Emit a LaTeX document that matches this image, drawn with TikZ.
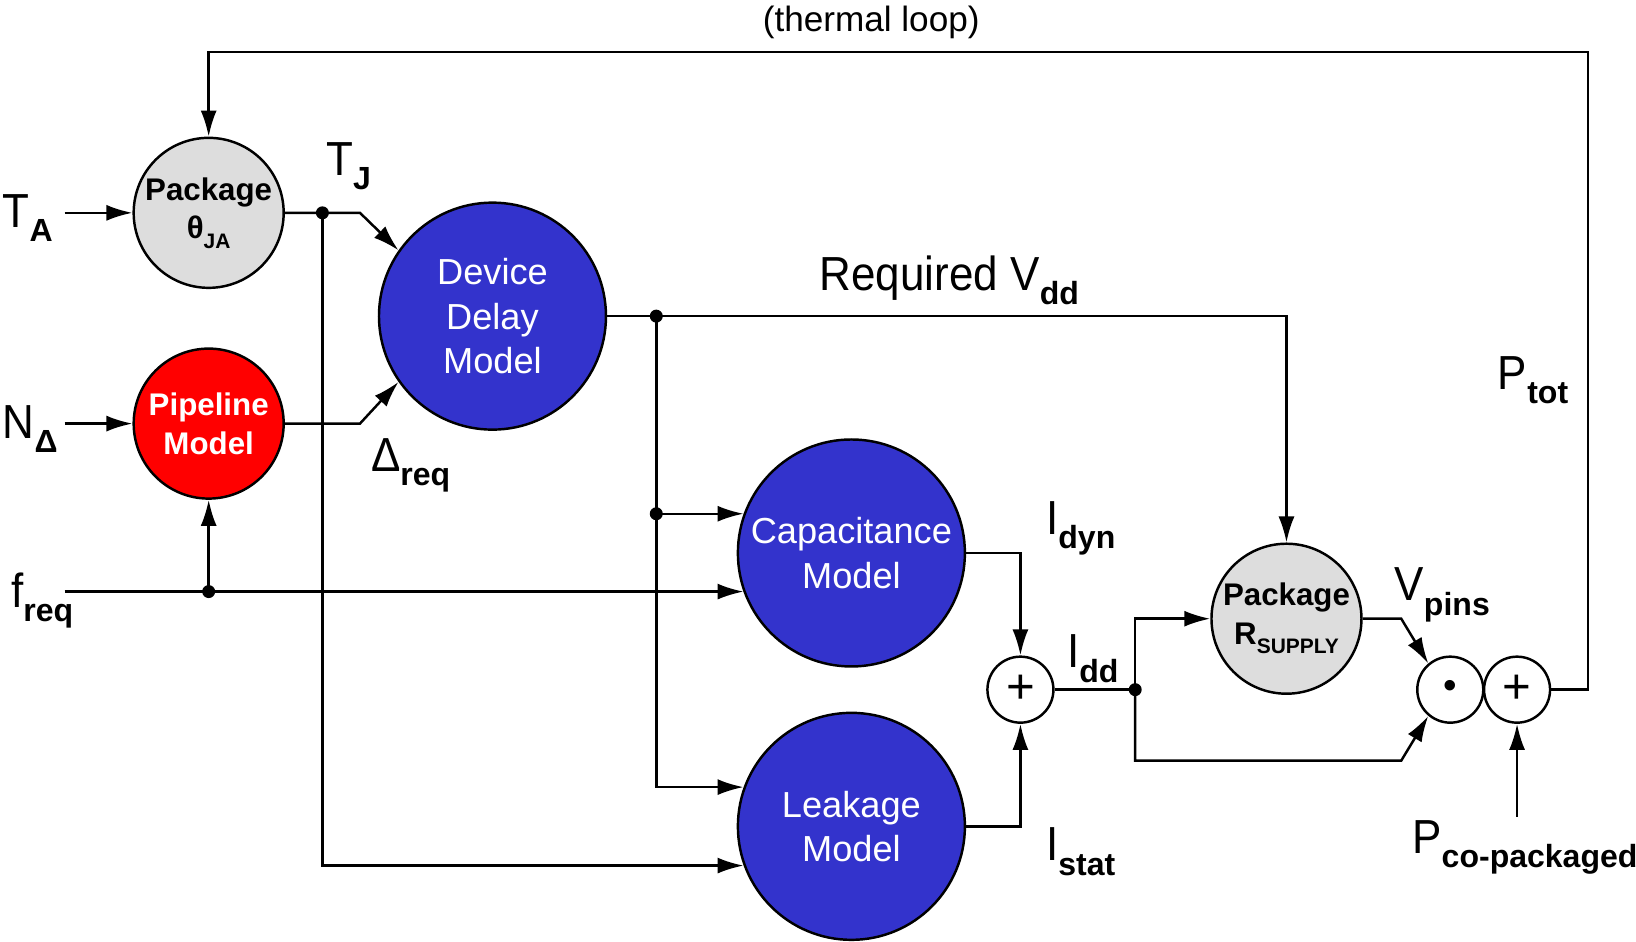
\documentclass[tikz,border=0pt]{standalone}
\usepackage{fontspec}
\setmainfont{Liberation Sans}
\newfontfamily\schmal{Liberation Sans}[FakeStretch=0.92]
\usetikzlibrary{arrows.meta,calc}
\definecolor{blau}{HTML}{3333CC}
\definecolor{rot}{HTML}{FF0000}
\definecolor{hgrau}{HTML}{DDDDDD}
\newcommand{\idx}[1]{\raisebox{-.3em}{\scalebox{.67}{\normalfont\bfseries #1}}}
\tikzset{
  pfeil/.style={-{Latex[length=2.6mm,width=1.6mm]},line width=0.7pt},
  linie/.style={line width=0.7pt},
  modell/.style={circle,draw,line width=0.7pt,fill=blau,text=white,minimum size=2.27cm,inner sep=0pt,align=center,font=\fontsize{10.3}{12.6}\selectfont},
  paket/.style={circle,draw,line width=0.7pt,fill=hgrau,minimum size=1.5cm,inner sep=0pt,align=center,font=\fontsize{8.9}{11}\selectfont\bfseries},
  summe/.style={circle,draw,line width=0.7pt,fill=white,minimum size=0.66cm,inner sep=0pt,font=\fontsize{14}{14}\selectfont},
  gross/.style={font=\fontsize{13.6}{16}\selectfont\schmal,inner sep=0pt},
  punkt/.style={circle,fill,inner sep=0pt,minimum size=1.3mm},
}

\begin{document}
\begin{tikzpicture}[x=1.0434cm,y=1.0434cm]
  \useasboundingbox (0,0) rectangle (15.68,9.02);
  % Bloecke
  \node[paket] (pkg) at (2.00,6.98) {Package\\θ\idx{JA}};
  \node[paket,fill=rot,text=white] (pipe) at (2.00,4.96) {Pipeline\\Model};
  \node[modell] (delay) at (4.72,5.99) {Device\\Delay\\Model};
  \node[modell] (cap) at (8.16,3.72) {Capacitance\\Model};
  \node[modell] (leak) at (8.16,1.10) {Leakage\\Model};
  \node[summe] (sum) at (9.78,2.41) {+};
  \node[paket] (rsup) at (12.33,3.09) {Package\\R\idx{SUPPLY}};
  \node[summe,font=\fontsize{11}{11}\selectfont] (mul) at (13.90,2.41) {•};
  \node[summe] (add) at (14.54,2.41) {+};
  % Hilfspunkte
  \coordinate (ta) at (0.62,6.98);
  \coordinate (nd) at (0.62,4.96);
  \coordinate (fr) at (0.62,3.35);
  \coordinate (fp) at (fr -| pipe);
  \coordinate (tj) at (3.09,6.98);
  \coordinate (k1) at (3.45,6.98);
  \coordinate (k2) at (3.45,4.96);
  \coordinate (vdd) at (6.29,5.99);
  \coordinate (vc) at (vdd |- cap.160);
  \coordinate (idd) at (10.88,2.41);
  \coordinate (k3) at (13.43,3.09);
  \coordinate (k4) at (13.43,1.73);
  \coordinate (loop) at (15.22,8.52);
  \coordinate (pco) at (14.54,1.19);
  % Verbindungen
  \draw[pfeil] (ta) -- (pkg);
  \draw[pfeil] (nd) -- (pipe);
  \draw[pfeil] (fr) -- (fr -| cap.200);
  \draw[pfeil] (fp) -- (pipe);
  \draw[pfeil] (pkg) -- (k1) -- (delay.145);
  \draw[pfeil] (pipe) -- (k2) -- (delay.215);
  \draw[pfeil] (tj) |- (leak.200);
  \draw[pfeil] (delay) -| (rsup);
  \draw[pfeil] (vdd) |- (leak.160);
  \draw[pfeil] (vc) -- (cap.160);
  \draw[pfeil] (cap) -| (sum);
  \draw[pfeil] (leak) -| (sum);
  \draw[linie] (sum) -- (idd);
  \draw[pfeil] (idd) |- (rsup);
  \draw[pfeil] (idd) |- (k4) -- (mul.230);
  \draw[pfeil] (rsup) -- (k3) -- (mul.130);
  \draw[pfeil] (add) -| (loop) -| (pkg);
  \draw[pfeil] (pco) -- (add);
  \foreach \p in {fp,tj,vdd,vc,idd}
    \node[punkt] (p-\p) at (\p) {};
  % Beschriftung
  \node[anchor=base,font=\fontsize{10}{12}\selectfont] (l-loop) at (8.35,8.72) {(thermal loop)};
  \node[gross,anchor=base west] (l-ta) at (0.02,6.84) {T\idx{A}};
  \node[gross,anchor=base west] (l-nd) at (0.02,4.82) {N\idx{Δ}};
  \node[gross,anchor=base west] (l-fr) at (0.10,3.20) {f\idx{req}};
  \node[gross,anchor=base west] (l-tj) at (3.12,7.34) {T\idx{J}};
  \node[gross,anchor=base west] (l-dr) at (3.55,4.50) {Δ\idx{req}};
  \node[gross,anchor=base west] (l-vdd) at (7.85,6.24) {Required V\idx{dd}};
  \node[gross,anchor=base west] (l-dyn) at (10.02,3.90) {I\idx{dyn}};
  \node[gross,anchor=base west] (l-idd) at (10.22,2.62) {I\idx{dd}};
  \node[gross,anchor=base west] (l-stat) at (10.02,0.77) {I\idx{stat}};
  \node[gross,anchor=base west] (l-pins) at (13.36,3.26) {V\idx{pins}};
  \node[gross,anchor=base west] (l-tot) at (14.35,5.29) {P\idx{tot}};
  \node[gross,anchor=base west] (l-pco) at (13.53,0.84) {P\idx{co-packaged}};
\end{tikzpicture}
\end{document}
